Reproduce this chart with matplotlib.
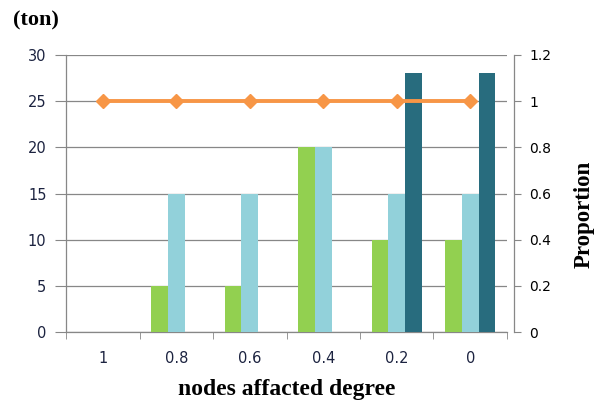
import numpy as np
import matplotlib.pyplot as plt

# ─── Data ─────────────────────────────────────────────────────────────────────
categories = ["1", "0.8", "0.6", "0.4", "0.2", "0"]
series_green = [0, 5, 5, 20, 10, 10]
series_lightblue = [0, 15, 15, 20, 15, 15]
series_teal = [0, 0, 0, 0, 28, 28]
proportion = [1, 1, 1, 1, 1, 1]

left_ticks = [0, 5, 10, 15, 20, 25, 30]
right_ticks = [0, 0.2, 0.4, 0.6, 0.8, 1, 1.2]
right_labels = ["0", "0.2", "0.4", "0.6", "0.8", "1", "1.2"]

# ─── Style ────────────────────────────────────────────────────────────────────
GRID = "#878787"
TICK_TXT = "#1c2340"
SERIF = ["Liberation Serif", "DejaVu Serif"]

fig = plt.figure(figsize=(6.08, 4.08), dpi=100)
ax = fig.add_axes([66 / 608, 1 - 332 / 408, (507 - 66) / 608, (332 - 55) / 408])

x = np.arange(len(categories))
w = 0.225
ax.bar(x - w, series_green, w, color="#92D050", zorder=3)
ax.bar(x, series_lightblue, w, color="#92D1DA", zorder=3)
ax.bar(x + w, series_teal, w, color="#286C7E", zorder=3)

ax.set_xlim(-0.5, len(categories) - 0.5)
ax.set_ylim(0, 30)
ax.set_yticks(left_ticks)
ax.set_yticklabels([str(t) for t in left_ticks], color=TICK_TXT, fontsize=10.5)
ax.set_xticks(x)
ax.set_xticklabels(categories, color=TICK_TXT, fontsize=10.5)
ax.set_xticks(np.arange(len(categories) + 1) - 0.5, minor=True)
ax.tick_params(axis="x", which="major", length=0, pad=14)
ax.tick_params(axis="x", which="minor", length=5, color=GRID, direction="out")
ax.tick_params(axis="y", length=8, color=GRID, direction="out", pad=6)
ax.grid(True, axis="y", color=GRID, linewidth=0.9, zorder=0)

for side in ["top", "right"]:
    ax.spines[side].set_visible(False)
for side in ["left", "bottom"]:
    ax.spines[side].set_color(GRID)
    ax.spines[side].set_linewidth(0.9)

# Right axis: proportion line
ax2 = ax.twinx()
ax2.plot(x, proportion, color="#F79646", linewidth=2.8, marker="D",
         markersize=7, zorder=4)
ax2.set_ylim(0, 1.2)
ax2.set_yticks(right_ticks)
ax2.set_yticklabels(right_labels, color=TICK_TXT, fontsize=10.5)
ax2.tick_params(axis="y", length=5, color=GRID, direction="out", pad=6)
for side in ["top", "left", "bottom"]:
    ax2.spines[side].set_visible(False)
ax2.spines["right"].set_position(("outward", 5))
ax2.spines["right"].set_color(GRID)
ax2.spines["right"].set_linewidth(0.9)

fig.text(584 / 608, 1 - 214 / 408, "Proportion", family=SERIF,
         fontweight="bold", fontsize=16.5, rotation=90, ha="center", va="center")
ax.set_xlabel("nodes affacted degree", family=SERIF, fontweight="bold",
              fontsize=17, labelpad=9)
fig.text(13 / 608, 1 - 20 / 408, "(ton)", family=SERIF, fontweight="bold",
         fontsize=16, va="center", ha="left")

plt.savefig("out.png", dpi=100)
